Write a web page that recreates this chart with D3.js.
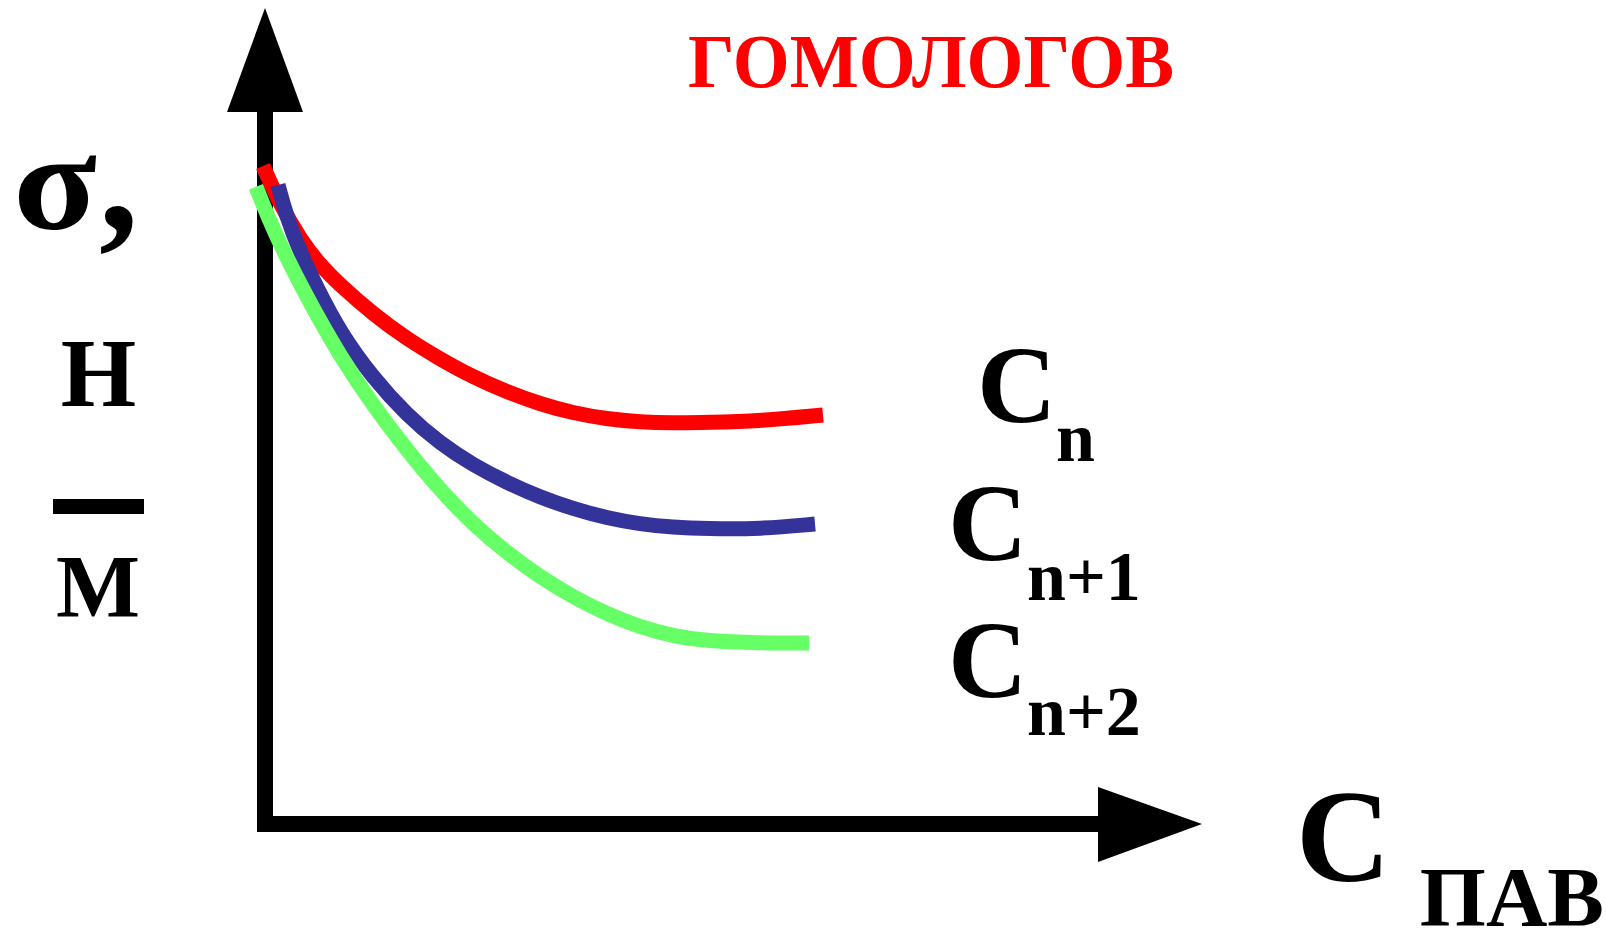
<!DOCTYPE html>
<html>
<head>
<meta charset="utf-8">
<script src="https://cdn.jsdelivr.net/npm/d3@7"></script>
<style>
  html, body { margin: 0; padding: 0; background: #ffffff; }
  svg { display: block; }
</style>
</head>
<body>
<script>
// ---------- data (arbitrary units) ----------
const seriesNames = ["Cn", "Cn+1", "Cn+2"];
const seriesColors = ["#ff0000", "#333399", "#66ff66"];

// C_n (red)
const concN  = [-0.21, 1.60, 3.74, 5.87, 8.00, 11.53, 15.15, 18.68, 22.20, 25.83, 29.35, 32.87, 36.50, 40.02, 43.54, 47.17, 52.83, 59.55];
const sigmaN = [80.64, 75.98, 71.69, 68.50, 66.05, 62.50, 59.44, 56.99, 54.78, 52.94, 51.47, 50.37, 49.63, 49.26, 49.14, 49.20, 49.39, 50.12];

// C_n+1 (blue)
const concN1  = [1.39, 2.35, 3.74, 5.55, 8.00, 11.53, 15.15, 18.68, 22.20, 25.83, 29.35, 32.87, 36.50, 40.02, 43.54, 47.17, 52.83, 58.70];
const sigmaN1 = [78.31, 74.26, 70.10, 65.69, 60.29, 54.66, 50.12, 46.64, 43.99, 41.83, 40.05, 38.63, 37.50, 36.76, 36.36, 36.19, 36.15, 36.76];

// C_n+2 (green)
const concN2  = [-0.96, 0.85, 4.48, 8.00, 11.53, 15.15, 18.68, 22.20, 25.83, 29.35, 32.87, 36.50, 40.02, 43.54, 47.17, 52.83, 58.06];
const sigmaN2 = [78.10, 72.79, 64.46, 57.35, 51.29, 45.83, 40.93, 36.76, 33.21, 30.27, 27.82, 25.74, 24.14, 23.04, 22.43, 22.18, 22.18];

// labels
const titleText = "ГОМОЛОГОВ";
const yLabelSymbol = "σ";
const yLabelComma = ",";
const yUnitTop = "Н";
const yUnitBottom = "М";
const xLabelMain = "С";
const xLabelSub = "ПАВ";
const seriesMain = ["C", "C", "C"];
const seriesSub = ["n", "n+1", "n+2"];

// ---------- drawing ----------
const W = 1606, H = 931;
const FONT = "'Liberation Serif', 'Times New Roman', serif";

const svg = d3.select("body").append("svg")
  .attr("width", W).attr("height", H)
  .attr("viewBox", `0 0 ${W} ${H}`);

svg.append("rect").attr("width", W).attr("height", H).attr("fill", "#fff");

const x = d3.scaleLinear().domain([0, 100]).range([265, 1202]);
const y = d3.scaleLinear().domain([0, 100]).range([824, 8]);

const series = [
  { c: concN, s: sigmaN },
  { c: concN1, s: sigmaN1 },
  { c: concN2, s: sigmaN2 }
].map((d, i) => ({
  name: seriesNames[i],
  color: seriesColors[i],
  pts: d.c.map((cv, j) => [cv, d.s[j]])
}));

// axes (arrows) built from the scales
const axisW = 16;
const x0 = x(0), y0 = y(0);
const yTop = y.range()[1], xEnd = x.range()[1];
const arrowLenY = 104, arrowHalfY = 38;
const arrowLenX = 104;

const axes = svg.append("g").attr("class", "axes");
axes.append("rect")
  .attr("x", x0 - axisW / 2).attr("y", yTop + arrowLenY - 1)
  .attr("width", axisW).attr("height", (y0 + axisW / 2) - (yTop + arrowLenY - 1))
  .attr("fill", "#000");
axes.append("path")
  .attr("d", `M${x0},${yTop} L${x0 + arrowHalfY},${yTop + arrowLenY} L${x0 - arrowHalfY},${yTop + arrowLenY} Z`)
  .attr("fill", "#000");
axes.append("rect")
  .attr("x", x0 - axisW / 2).attr("y", y0 - axisW / 2)
  .attr("width", (xEnd - arrowLenX + 1) - (x0 - axisW / 2)).attr("height", axisW)
  .attr("fill", "#000");
axes.append("path")
  .attr("d", `M${xEnd},${y0} L${xEnd - arrowLenX},${y0 - 37} L${xEnd - arrowLenX},${y0 + 38} Z`)
  .attr("fill", "#000");

// curves
const line = d3.line()
  .x(d => x(d[0]))
  .y(d => y(d[1]))
  .curve(d3.curveBasis);

svg.append("g").attr("class", "curves")
  .selectAll("path")
  .data(series)
  .join("path")
  .attr("d", d => line(d.pts))
  .attr("fill", "none")
  .attr("stroke", d => d.color)
  .attr("stroke-width", 15)
  .attr("stroke-linecap", "butt")
  .attr("stroke-linejoin", "round");

// title
svg.append("text")
  .attr("x", 688).attr("y", 87)
  .attr("font-family", FONT).attr("font-weight", "bold")
  .attr("font-size", 77)
  .attr("fill", "#ff0000")
  .attr("textLength", 486).attr("lengthAdjust", "spacingAndGlyphs")
  .text(titleText);

// y label  σ,  Н / М
svg.append("text")
  .attr("x", 13).attr("y", 229)
  .attr("font-family", FONT).attr("font-weight", "bold")
  .attr("font-size", 140)
  .attr("fill", "#000")
  .attr("textLength", 84).attr("lengthAdjust", "spacingAndGlyphs")
  .text(yLabelSymbol);

svg.append("text")
  .attr("x", 99).attr("y", 229)
  .attr("font-family", FONT).attr("font-weight", "bold")
  .attr("font-size", 158)
  .attr("fill", "#000")
  .text(yLabelComma);

svg.append("text")
  .attr("x", 98.5).attr("y", 406)
  .attr("text-anchor", "middle")
  .attr("font-family", FONT).attr("font-weight", "bold")
  .attr("font-size", 97)
  .attr("fill", "#000")
  .text(yUnitTop);

svg.append("rect")
  .attr("x", 53).attr("y", 499).attr("width", 91).attr("height", 15)
  .attr("fill", "#000");

svg.append("text")
  .attr("x", 98).attr("y", 616)
  .attr("text-anchor", "middle")
  .attr("font-family", FONT).attr("font-weight", "bold")
  .attr("font-size", 89)
  .attr("fill", "#000")
  .text(yUnitBottom);

// x label  С ПАВ
svg.append("text")
  .attr("x", 1296).attr("y", 881)
  .attr("font-family", FONT).attr("font-weight", "bold")
  .attr("font-size", 131)
  .attr("fill", "#000")
  .text(xLabelMain);

svg.append("text")
  .attr("x", 1604).attr("y", 926)
  .attr("text-anchor", "end")
  .attr("font-family", FONT).attr("font-weight", "bold")
  .attr("font-size", 85)
  .attr("fill", "#000")
  .text(xLabelSub);

// series labels
const labelPos = [
  { cx: 977, cy: 422, sx: 1056, sy: 461 },
  { cx: 948, cy: 560, sx: 1027, sy: 600 },
  { cx: 948, cy: 697, sx: 1027, sy: 735 }
];
const lbl = svg.append("g").attr("class", "series-labels")
  .attr("font-family", FONT).attr("font-weight", "bold").attr("fill", "#000");
seriesMain.forEach((m, i) => {
  const p = labelPos[i];
  lbl.append("text").attr("x", p.cx).attr("y", p.cy).attr("font-size", 110).text(m);
  lbl.append("text").attr("x", p.sx).attr("y", p.sy).attr("font-size", 70).text(seriesSub[i]);
});
</script>
</body>
</html>
